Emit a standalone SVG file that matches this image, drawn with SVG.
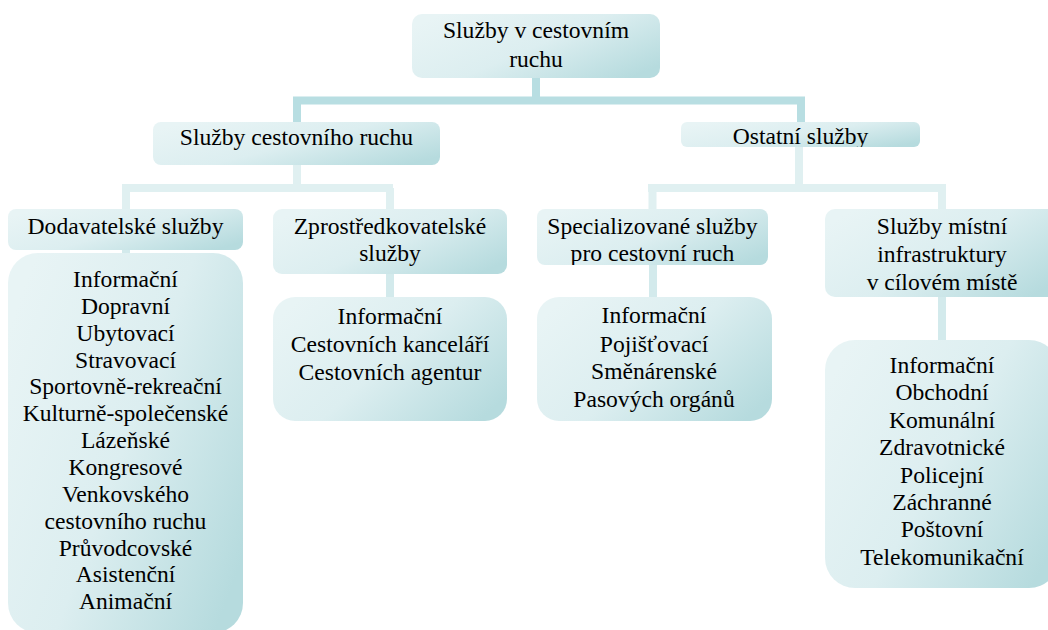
<svg xmlns="http://www.w3.org/2000/svg" width="1048" height="630" viewBox="0 0 1048 630">
<style>
.box{fill:url(#g);}
.c1{stroke:#b8dee2;stroke-width:8;fill:none;}
.c2{stroke:#e0f0f1;stroke-width:8;fill:none;}
.c3{stroke:#d3eaec;stroke-width:8;fill:none;}
</style>
<defs>
<linearGradient id="g" x1="0" y1="0.2" x2="1" y2="0.8">
<stop offset="0" stop-color="#e8f4f5"/>
<stop offset="0.5" stop-color="#dceef0"/>
<stop offset="1" stop-color="#b6dbde"/>
</linearGradient>
<clipPath id="clipOst"><rect x="681" y="122" width="239" height="25" rx="6"/></clipPath>
<clipPath id="clipSpec"><rect x="537" y="209" width="231" height="56" rx="8"/></clipPath>
</defs>
<rect width="1048" height="630" fill="#fff"/>
<g id="connectors">
<path class="c2" d="M297 160V188M122 188H393M126 188V212M390 188V212"/>
<path class="c2" d="M799 145V188M648 188H946M652.5 188V212M942 188V212"/>
<path class="c1" d="M536 76V100.5M293 100.5H805M297 100V125M801 100V125"/>
<path class="c3" d="M126 248V256M390 272V300M653 263V300M942 294V343"/>
</g>
<g font-family="Liberation Serif, DejaVu Serif, Times New Roman, serif" font-size="23.6" fill="#000" text-anchor="middle">
<g id="n-root"><rect class="box" x="412" y="14" width="248" height="64" rx="10"/><text x="536" y="38.3">Služby v cestovním</text><text x="536" y="66.7">ruchu</text></g>
<g id="n-scr"><rect class="box" x="153" y="122" width="287" height="43" rx="8"/><text x="296.5" y="145">Služby cestovního ruchu</text></g>
<g id="n-ost"><rect class="box" x="681" y="122" width="239" height="25" rx="6"/><text x="800.5" y="144.3" clip-path="url(#clipOst)">Ostatní služby</text></g>
<g id="n-dod"><rect class="box" x="8" y="209" width="235" height="41" rx="8"/><text x="125.5" y="234">Dodavatelské služby</text></g>
<g id="n-zpr"><rect class="box" x="273" y="209" width="234" height="65" rx="9"/><text x="390" y="234">Zprostředkovatelské</text><text x="390" y="261">služby</text></g>
<g id="n-spec"><rect class="box" x="537" y="209" width="231" height="56" rx="8"/><g clip-path="url(#clipSpec)"><text x="652.5" y="233.5">Specializované služby</text><text x="652.5" y="261">pro cestovní ruch</text></g></g>
<g id="n-mist"><rect class="box" x="825" y="209" width="234" height="88" rx="10"/><text x="942" y="233.5">Služby místní</text><text x="942" y="262">infrastruktury</text><text x="942" y="290">v cílovém místě</text></g>
<g id="l-dod"><rect class="box" x="8" y="253" width="235" height="380" rx="30"/>
<text x="125.5" y="287">Informační</text>
<text x="125.5" y="313.9">Dopravní</text>
<text x="125.5" y="340.7">Ubytovací</text>
<text x="125.5" y="367.6">Stravovací</text>
<text x="125.5" y="394.4">Sportovně-rekreační</text>
<text x="125.5" y="421.3">Kulturně-společenské</text>
<text x="125.5" y="448.1">Lázeňské</text>
<text x="125.5" y="475">Kongresové</text>
<text x="125.5" y="501.8">Venkovského</text>
<text x="125.5" y="528.7">cestovního ruchu</text>
<text x="125.5" y="555.5">Průvodcovské</text>
<text x="125.5" y="582.4">Asistenční</text>
<text x="125.5" y="609.2">Animační</text>
</g>
<g id="l-zpr"><rect class="box" x="273" y="297" width="234" height="124" rx="22"/>
<text x="390" y="324">Informační</text>
<text x="390" y="352">Cestovních kanceláří</text>
<text x="390" y="380">Cestovních agentur</text>
</g>
<g id="l-spec"><rect class="box" x="537" y="297" width="235" height="124" rx="22"/>
<text x="654" y="323.3">Informační</text>
<text x="654" y="351.5">Pojišťovací</text>
<text x="654" y="379.3">Směnárenské</text>
<text x="654" y="406.8">Pasových orgánů</text>
</g>
<g id="l-mist"><rect class="box" x="825" y="340" width="234" height="248" rx="30"/>
<text x="942" y="373">Informační</text>
<text x="942" y="400.4">Obchodní</text>
<text x="942" y="427.8">Komunální</text>
<text x="942" y="455.2">Zdravotnické</text>
<text x="942" y="482.6">Policejní</text>
<text x="942" y="510">Záchranné</text>
<text x="942" y="537.4">Poštovní</text>
<text x="942" y="564.8">Telekomunikační</text>
</g>
</g>
</svg>
